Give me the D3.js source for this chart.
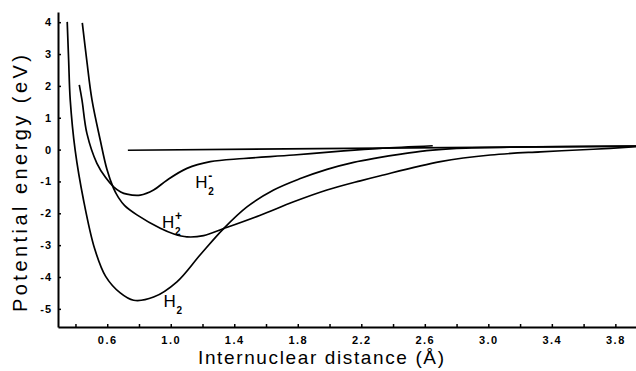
<!DOCTYPE html>
<html>
<head>
<meta charset="utf-8">
<script src="https://cdn.jsdelivr.net/npm/d3@7"></script>
<style>
body { margin: 0; background: #fff; }
</style>
</head>
<body>
<div id="chart"></div>
<script>
// internuclear distance (A) and potential energy (eV)
var h2R = [0.348, 0.357, 0.367, 0.398, 0.451, 0.52, 0.59, 0.682, 0.766, 0.892, 1.039, 1.186, 1.333, 1.48, 1.648, 1.816, 1.984, 2.152, 2.30, 2.45, 2.60, 2.8, 3.93];
var h2E = [4.01, 2.81, 1.56, -0.02, -1.59, -3.10, -3.98, -4.50, -4.73, -4.63, -4.15, -3.30, -2.48, -1.80, -1.27, -0.91, -0.62, -0.40, -0.26, -0.14, -0.04, 0.04, 0.11];

var h2plusR = [0.443, 0.471, 0.504, 0.556, 0.598, 0.640, 0.67, 0.71, 0.787, 0.934, 1.02, 1.102, 1.207, 1.333, 1.564, 1.774, 1.984, 2.194, 2.32, 2.698, 3.013, 3.328, 3.661, 3.93];
var h2plusE = [3.98, 2.81, 1.56, 0.30, -0.62, -1.22, -1.50, -1.76, -2.05, -2.47, -2.65, -2.74, -2.70, -2.48, -2.06, -1.64, -1.27, -0.98, -0.82, -0.38, -0.17, -0.07, 0.01, 0.09];

var h2minusR = [0.424, 0.441, 0.472, 0.535, 0.59, 0.640, 0.685, 0.724, 0.808, 0.892, 0.976, 1.102, 1.249, 1.459, 1.774, 2.089, 2.32, 2.65];
var h2minusE = [2.03, 1.56, 0.51, -0.43, -0.88, -1.17, -1.33, -1.40, -1.43, -1.27, -0.96, -0.59, -0.38, -0.28, -0.17, -0.04, 0.04, 0.12];

// the zero reference line
var zeroR = [0.73, 3.93];
var zeroE = [-0.02, 0.11];

var yTicks = [4, 3, 2, 1, 0, -1, -2, -3, -4, -5];
var xLabelTicks = [0.6, 1.0, 1.4, 1.8, 2.2, 2.6, 3.0, 3.4, 3.8];
var xMinorTicks = [0.4, 0.6, 0.8, 1.0, 1.2, 1.4, 1.6, 1.8, 2.0, 2.2, 2.4, 2.6, 2.8, 3.0, 3.2, 3.4, 3.6, 3.8];

// curve labels: name, superscript, anchor (r, E)
var labelNames = ['H', 'H', 'H'];
var labelSup = ['-', '+', ''];
var labelR = [1.154, 0.945, 0.955];
var labelE = [-1.21, -2.47, -4.94];

var width = 636, height = 371;

var svg = d3.select('#chart')
    .append('svg')
    .attr('width', width)
    .attr('height', height);

var x = d3.scaleLinear().domain([0.29, 3.93]).range([58, 636]);
var y = d3.scaleLinear().domain([-5.57, 4.32]).range([327, 12]);

var line = d3.line()
    .x(d => x(d[0]))
    .y(d => y(d[1]))
    .curve(d3.curveCatmullRom.alpha(0.5));

function pairs(rs, es) {
    return rs.map((r, i) => [r, es[i]]);
}

var series = [pairs(zeroR, zeroE), pairs(h2R, h2E), pairs(h2plusR, h2plusE), pairs(h2minusR, h2minusE)];

svg.selectAll('path.curve')
    .data(series)
    .enter()
    .append('path')
    .attr('class', 'curve')
    .attr('d', line)
    .attr('fill', 'none')
    .attr('stroke', '#000')
    .attr('stroke-width', 1.7);

// y axis
var yAxis = d3.axisLeft(y)
    .tickValues(yTicks)
    .tickSizeInner(-3)
    .tickSizeOuter(0)
    .tickPadding(6)
    .tickFormat(d => String(d));

var gy = svg.append('g')
    .attr('transform', 'translate(58,0)')
    .call(yAxis);
gy.select('.domain').attr('stroke-width', 2);
gy.selectAll('.tick line').attr('stroke-width', 1.5);
gy.selectAll('.tick text')
    .attr('font-family', 'Liberation Sans, Arial, sans-serif')
    .attr('font-size', 11)
    .attr('font-weight', 'bold')
    .attr('letter-spacing', 1)
    .attr('fill', '#000');

// x axis
var xAxis = d3.axisBottom(x)
    .tickValues(xMinorTicks)
    .tickSizeInner(-3)
    .tickSizeOuter(0)
    .tickPadding(9)
    .tickFormat(d => xLabelTicks.some(t => Math.abs(t - d) < 1e-6) ? d3.format('.1f')(d) : '');

var gx = svg.append('g')
    .attr('transform', 'translate(0,327)')
    .call(xAxis);
gx.select('.domain').attr('stroke-width', 2);
gx.selectAll('.tick line').attr('stroke-width', 1.5);
gx.selectAll('.tick text')
    .attr('font-family', 'Liberation Sans, Arial, sans-serif')
    .attr('font-size', 11)
    .attr('font-weight', 'bold')
    .attr('letter-spacing', 1.5)
    .attr('fill', '#000');

// axis titles
svg.append('text')
    .attr('transform', 'translate(27,' + ((12 + 327) / 2 + 14) + ') rotate(-90)')
    .attr('text-anchor', 'middle')
    .attr('font-family', 'Liberation Sans, Arial, sans-serif')
    .attr('font-size', 20)
    .attr('textLength', 257)
    .attr('lengthAdjust', 'spacing')
    .text('Potential energy  (eV)');

svg.append('text')
    .attr('x', 321)
    .attr('y', 364)
    .attr('text-anchor', 'middle')
    .attr('font-family', 'Liberation Sans, Arial, sans-serif')
    .attr('font-size', 19)
    .attr('textLength', 246)
    .attr('lengthAdjust', 'spacing')
    .text('Internuclear  distance  (Å)');

// curve labels
labelNames.forEach((name, i) => {
    var lx = x(labelR[i]), ly = y(labelE[i]);
    var g = svg.append('g')
        .attr('font-family', 'Liberation Sans, Arial, sans-serif')
        .attr('fill', '#000');
    g.append('text')
        .attr('x', lx)
        .attr('y', ly)
        .attr('font-size', 17)
        .text(name);
    g.append('text')
        .attr('x', lx + 13)
        .attr('y', ly + 7)
        .attr('font-size', 10)
        .attr('font-weight', 'bold')
        .text('2');
    if (labelSup[i]) {
        g.append('text')
            .attr('x', lx + 13)
            .attr('y', ly - 8)
            .attr('font-size', 12)
            .attr('font-weight', 'bold')
            .text(labelSup[i]);
    }
});
</script>
</body>
</html>
